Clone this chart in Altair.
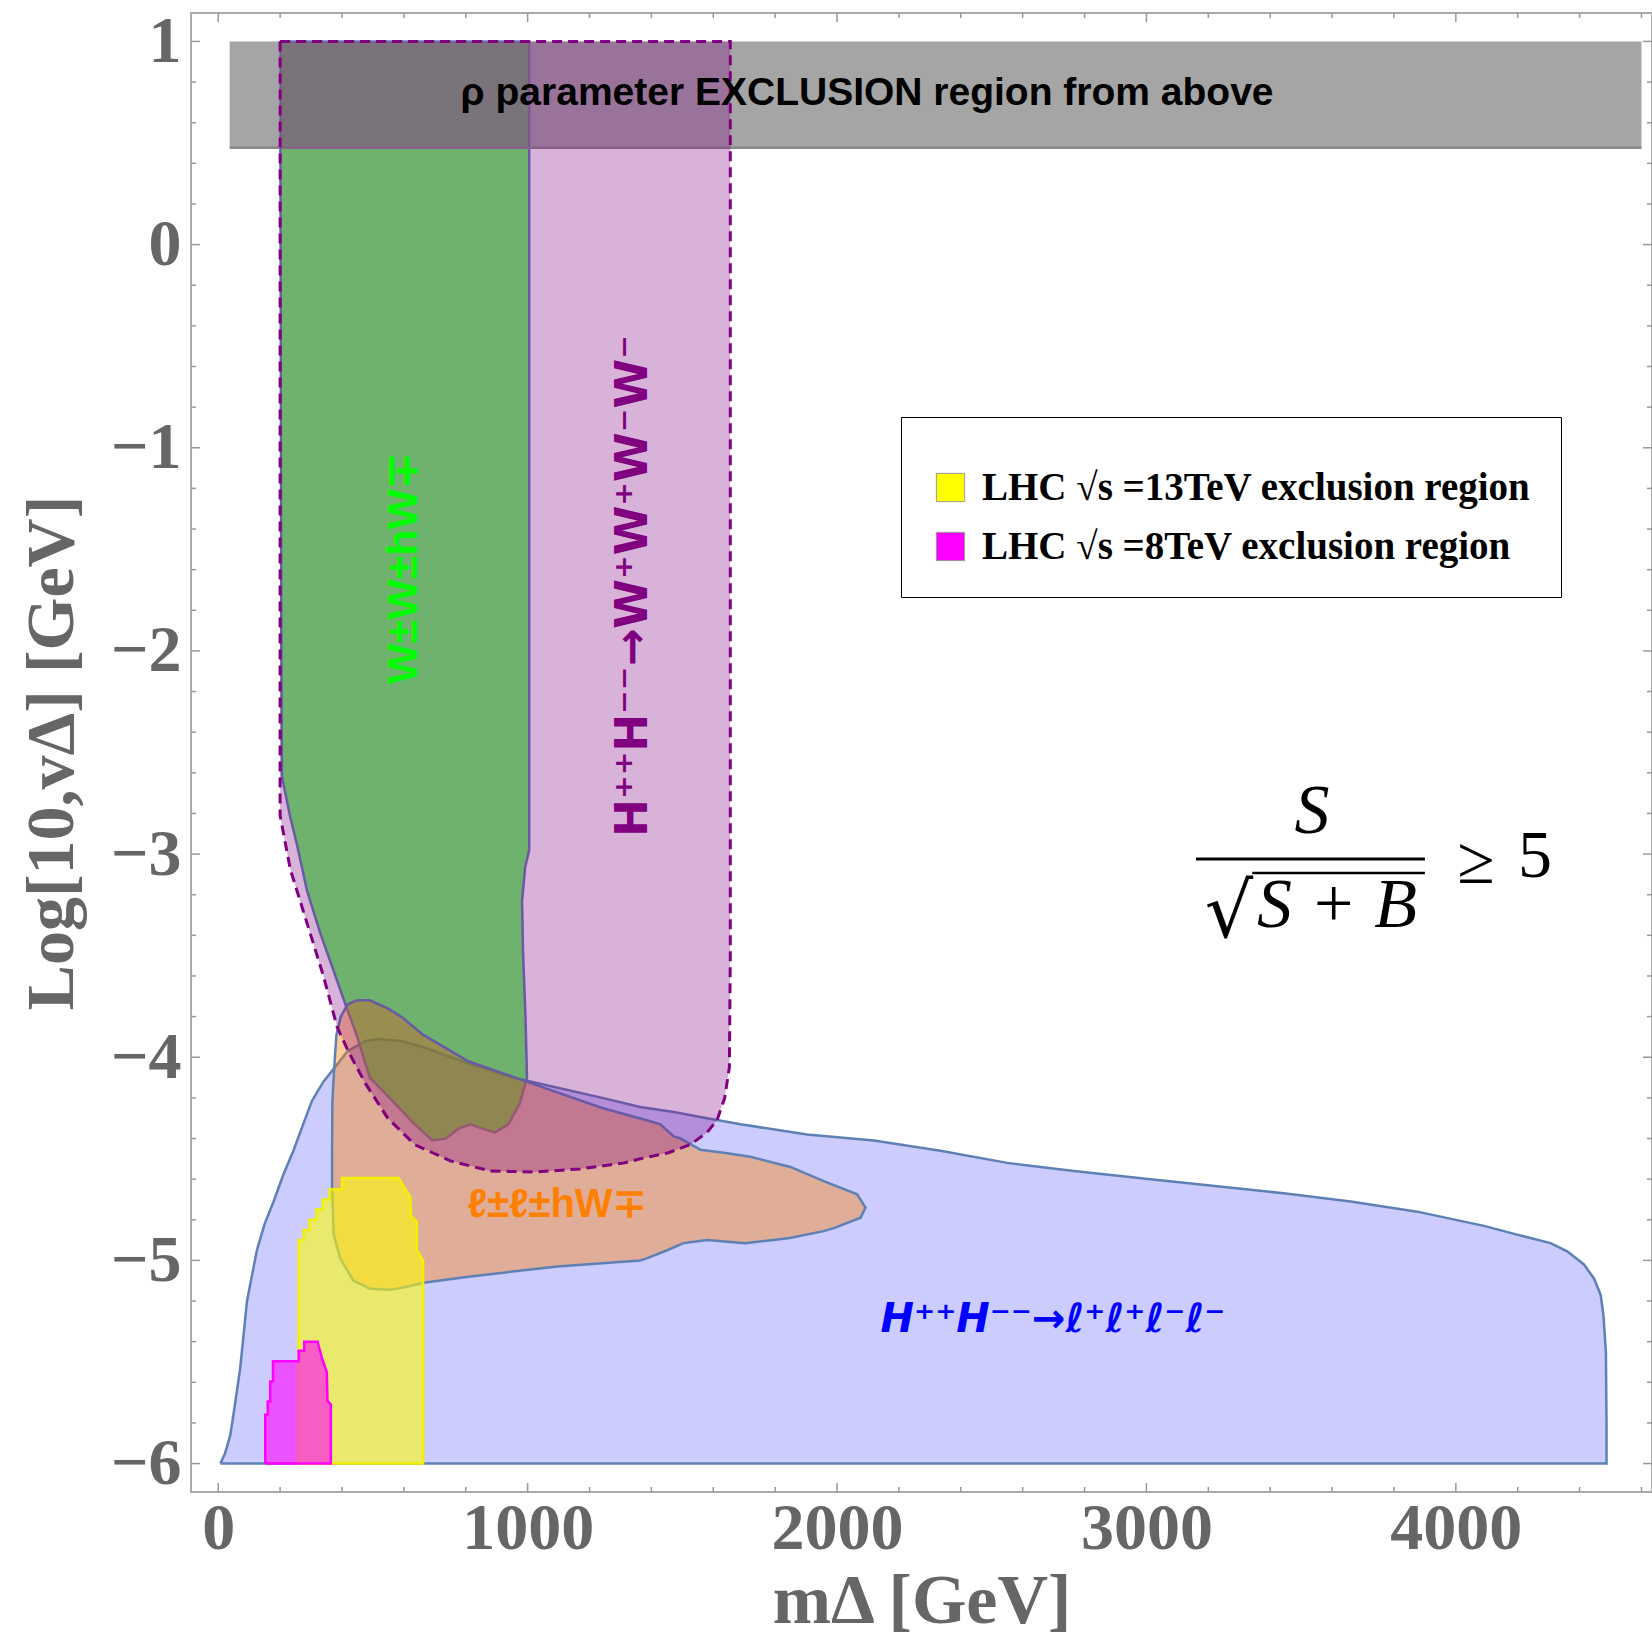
import altair as alt
import pandas as pd

# ---------------- axis ticks ----------------
x_major = [0, 1000, 2000, 3000, 4000]
x_minor = [200, 400, 600, 800, 1200, 1400, 1600, 1800, 2200, 2400, 2600, 2800,
           3200, 3400, 3600, 3800, 4200, 4400, 4600]
y_major = [-6, -5, -4, -3, -2, -1, 0, 1]
y_minor = [-5.8, -5.6, -5.4, -5.2, -4.8, -4.6, -4.4, -4.2, -3.8, -3.6, -3.4, -3.2,
           -2.8, -2.6, -2.4, -2.2, -1.8, -1.6, -1.4, -1.2, -0.8, -0.6, -0.4, -0.2,
           0.2, 0.4, 0.6, 0.8]

# ---------------- regions (m_Delta [GeV], log10 v_Delta) ----------------
blue_x = [7, 22, 39, 55, 71, 93, 125, 150, 179, 210, 243, 272, 303, 340, 377, 418, 476,
          519, 591, 663, 808, 952, 1241, 1364, 1472, 1580, 1688, 1903, 2119, 2334, 2550,
          2765, 3013, 3229, 3444, 3660, 3875, 4091, 4198, 4306, 4360, 4414, 4447, 4468,
          4477, 4485, 4487, 4487, 7]
blue_y = [-6.0, -5.95, -5.86, -5.70, -5.53, -5.20, -4.95, -4.82, -4.71, -4.58, -4.46,
          -4.34, -4.215, -4.12, -4.05, -3.97, -3.92, -3.91, -3.92, -3.95, -4.03, -4.10,
          -4.20, -4.245, -4.27, -4.30, -4.33, -4.38, -4.41, -4.46, -4.52, -4.56, -4.60,
          -4.635, -4.67, -4.71, -4.76, -4.83, -4.873, -4.915, -4.955, -5.02, -5.09, -5.17,
          -5.27, -5.45, -5.8, -6.0, -6.0]

green_x = [200, 1005, 1005, 992, 982, 985, 993, 998, 974, 938, 894, 851, 815, 779, 735,
           692, 635, 563, 490, 447, 411, 373, 330, 287, 254, 233, 217, 206, 204, 200]
green_y = [1.0, 1.0, -2.98, -3.065, -3.23, -3.475, -3.80, -4.10, -4.23, -4.33, -4.37,
           -4.35, -4.33, -4.35, -4.40, -4.41, -4.33, -4.215, -4.10, -3.89, -3.74, -3.575,
           -3.39, -3.18, -2.95, -2.82, -2.70, -2.62, -2.0, 1.0]

orange_x = [447, 490, 548, 591, 663, 808, 996, 1241, 1385, 1429, 1472, 1494, 1558, 1634,
            1720, 1849, 1957, 2065, 2092, 2076, 1992, 1957, 1847, 1795, 1703, 1580, 1504,
            1451, 1385, 1364, 1096, 808, 664, 610, 556, 491, 437, 394, 373, 368, 368, 369,
            375, 382, 396, 418, 447]
orange_y = [-3.72, -3.72, -3.76, -3.80, -3.89, -4.02, -4.12, -4.25, -4.31, -4.33, -4.39,
            -4.40, -4.455, -4.47, -4.49, -4.54, -4.61, -4.675, -4.74, -4.79, -4.84, -4.856,
            -4.89, -4.90, -4.915, -4.90, -4.915, -4.95, -4.99, -5.0, -5.03, -5.08, -5.11,
            -5.13, -5.145, -5.14, -5.10, -4.99, -4.87, -4.63, -4.46, -4.215, -4.05, -3.89,
            -3.80, -3.74, -3.72]

purple_x = [200, 1655, 1655, 1652, 1637, 1612, 1580, 1526, 1455, 1364, 1313, 1169, 1024,
            880, 750, 635, 548, 476, 420, 384, 340, 287, 233, 200, 200]
purple_y = [1.0, 1.0, -3.5, -4.05, -4.2, -4.31, -4.37, -4.43, -4.47, -4.50, -4.52, -4.55,
            -4.565, -4.56, -4.51, -4.43, -4.30, -4.13, -3.97, -3.85, -3.60, -3.34, -3.075,
            -2.81, 1.0]

yellow_x = [260, 260, 276, 276, 295, 295, 317, 317, 338, 338, 360, 360, 400, 400, 583,
            621, 623, 642, 642, 662, 662, 260]
yellow_y = [-6.0, -4.90, -4.90, -4.85, -4.85, -4.80, -4.80, -4.75, -4.75, -4.70, -4.70,
            -4.65, -4.65, -4.595, -4.595, -4.69, -4.78, -4.81, -4.95, -5.0, -6.0, -6.0]

magenta_x = [152, 152, 160, 160, 168, 168, 177, 177, 260, 260, 278, 278, 321, 335, 351,
             353, 364, 364, 152]
magenta_y = [-6.0, -5.76, -5.76, -5.695, -5.695, -5.596, -5.596, -5.497, -5.497, -5.445,
             -5.445, -5.40, -5.40, -5.48, -5.55, -5.69, -5.71, -6.0, -6.0]

band_x = [37, 4600]
band_y = [0.477, 1.0]

legend_labels = ["LHC \u221as =13TeV exclusion region", "LHC \u221as =8TeV exclusion region"]

# ---------------- annotations ----------------
rho_text = ["\u03c1 parameter EXCLUSION region from above"]
rho_pos = [2097, 0.746]
green_text = ["W\u00b1W\u00b1hW\u2213"]
green_pos = [600, -1.594]
purple_text = ["H\u207a\u207aH\u207b\u207b\u2192W\u207aW\u207aW\u207bW\u207b"]
purple_pos = [1341, -1.68]
orange_text = ["\u2113\u00b1\u2113\u00b1hW\u2213"]
orange_pos = [1095, -4.727]
blue_text = ["H\u207a\u207aH\u207b\u207b\u2192\u2113\u207a\u2113\u207a\u2113\u207b\u2113\u207b"]
blue_pos = [2698, -5.293]

formula_text = ["S", "S + B"]
formula_x = [3535, 3616]
formula_y = [-2.896, -3.359]
upright_text = ["\u2265", "5"]
upright_x = [4065, 4256]
upright_y = [-3.142, -3.113]
radical_text = ["\u221a"]
radical_pos = [3345, -3.41]
frac_x = [3160, 3900]
frac_y = -3.024
over_x = [3342, 3900]
over_y = -3.093

# ---------------- chart ----------------
W, H = 1461, 1479
xscale = alt.Scale(domain=[-88, 4634], nice=False, zero=False)
yscale = alt.Scale(domain=[-6.14, 1.14], nice=False, zero=False)
GRAY = "#666666"
xaxis = alt.Axis(values=x_major, ticks=False, domain=False, grid=False, format="d",
                 labelFont="Liberation Serif", labelFontWeight="bold", labelFontSize=66,
                 labelColor=GRAY, labelPadding=4, labelFlush=False, labelOverlap=False,
                 title="m\u0394 [GeV]", titleFont="Liberation Serif", titleFontWeight="bold",
                 titleFontSize=70, titleColor=GRAY, titlePadding=6)
yaxis = alt.Axis(values=y_major, ticks=False, domain=False, grid=False, format="d",
                 labelFont="Liberation Serif", labelFontWeight="bold", labelFontSize=66,
                 labelColor=GRAY, labelPadding=10, labelFlush=False, labelOverlap=False,
                 title="Log[10,v\u0394] [GeV]", titleFont="Liberation Serif",
                 titleFontWeight="bold", titleFontSize=68, titleColor=GRAY, titlePadding=24)

X = alt.X("x:Q", scale=xscale, axis=xaxis)
Y = alt.Y("y:Q", scale=yscale, axis=yaxis)


def poly(xs, ys, extra=None):
    d = pd.DataFrame({"x": xs, "y": ys, "i": list(range(len(xs)))})
    if extra:
        for k, v in extra.items():
            d[k] = v
    return d


BOUND = "#5e81b5"

blue = alt.Chart(poly(blue_x, blue_y)).mark_line(
    fill="#0000ff", fillOpacity=0.2, stroke=BOUND, strokeWidth=2.5
).encode(x=X, y=Y, order="i:Q")

green = alt.Chart(poly(green_x, green_y)).mark_line(
    fill="#00ff00", fillOpacity=0.6, stroke=BOUND, strokeWidth=2.5
).encode(x=X, y=Y, order="i:Q")

orange = alt.Chart(poly(orange_x, orange_y)).mark_line(
    fill="#ff8000", fillOpacity=0.4, stroke=BOUND, strokeWidth=2.5
).encode(x=X, y=Y, order="i:Q")

band_df = pd.DataFrame({"x": [band_x[0]], "x2": [band_x[1]], "y": [band_y[0]], "y2": [band_y[1]]})
band = alt.Chart(band_df).mark_rect(color="#808080", opacity=0.71).encode(
    x=X, x2="x2:Q", y=Y, y2="y2:Q")
band_edge = alt.Chart(band_df).mark_rule(color="#8a8a8a", strokeWidth=2.5).encode(
    x=X, x2="x2:Q", y=Y)

purple = alt.Chart(poly(purple_x, purple_y)).mark_line(
    fill="#800080", fillOpacity=0.3, stroke="#800080", strokeWidth=3, strokeDash=[10, 6]
).encode(x=X, y=Y, order="i:Q")

fill_enc = alt.Fill(
    "lab:N",
    scale=alt.Scale(domain=legend_labels, range=["#ffff00", "#ff00ff"]),
    legend=alt.Legend(
        orient="none", legendX=710, legendY=404, title=" ", titleFontSize=12, titlePadding=9,
        strokeColor="black", fillColor="white", padding=30, symbolType="square",
        symbolSize=800, symbolStrokeWidth=1, symbolStrokeColor="#999999", symbolOpacity=1,
        labelFont="Liberation Serif", labelFontWeight="bold", labelFontSize=39,
        labelColor="black", labelOffset=12, labelLimit=2000, rowPadding=19),
)

yellow = alt.Chart(poly(yellow_x, yellow_y, {"lab": legend_labels[0]})).mark_line(
    fillOpacity=0.57, stroke="#f2f200", strokeWidth=2.5
).encode(x=X, y=Y, order="i:Q", fill=fill_enc)

magenta = alt.Chart(poly(magenta_x, magenta_y, {"lab": legend_labels[1]})).mark_line(
    fillOpacity=0.6, stroke="#ff00ff", strokeWidth=2.5
).encode(x=X, y=Y, order="i:Q", fill=fill_enc)


def label(text, pos, **kw):
    d = pd.DataFrame({"x": [pos[0]], "y": [pos[1]], "t": text})
    return alt.Chart(d).mark_text(**kw).encode(x=X, y=Y, text="t:N")


rho = label(rho_text, rho_pos, font="Liberation Sans", fontWeight="bold", fontSize=39,
            color="black", baseline="middle", align="center")
glab = label(green_text, green_pos, font="Liberation Sans", fontWeight="bold", fontSize=43,
             color="#00ff00", angle=270, baseline="middle", align="center")
plab = label(purple_text, purple_pos, font="DejaVu Sans", fontWeight="bold", fontSize=45,
             color="#800080", angle=270, baseline="middle", align="center")
olab = label(orange_text, orange_pos, font="Liberation Sans", fontWeight="bold", fontSize=40,
             color="#ff8000", baseline="middle", align="center")
blab = label(blue_text, blue_pos, font="DejaVu Sans", fontWeight="bold", fontStyle="italic",
             fontSize=40, color="#0000ff", baseline="middle", align="center")

fdf = pd.DataFrame({"x": formula_x, "y": formula_y, "t": formula_text})
formula = alt.Chart(fdf).mark_text(font="Liberation Serif", fontStyle="italic", fontSize=70,
                                   color="black", baseline="alphabetic", align="center").encode(
    x=X, y=Y, text="t:N")
udf = pd.DataFrame({"x": upright_x, "y": upright_y, "t": upright_text})
upright = alt.Chart(udf).mark_text(font="Liberation Serif", fontSize=68,
                                   color="black", baseline="alphabetic", align="center").encode(
    x=X, y=Y, text="t:N")
radical = label(radical_text, radical_pos, font="DejaVu Serif", fontSize=76, color="black",
                baseline="alphabetic", align="right")
frac = alt.Chart(pd.DataFrame({"x": [frac_x[0]], "x2": [frac_x[1]], "y": [frac_y]})).mark_rule(
    color="black", strokeWidth=3).encode(x=X, x2="x2:Q", y=Y)
over = alt.Chart(pd.DataFrame({"x": [over_x[0]], "x2": [over_x[1]], "y": [over_y]})).mark_rule(
    color="black", strokeWidth=2.5).encode(x=X, x2="x2:Q", y=Y)

# inward frame ticks
TC = "#999999"
xmaj = pd.DataFrame({"x": x_major})
xmin = pd.DataFrame({"x": x_minor})
ymaj = pd.DataFrame({"y": y_major})
ymin = pd.DataFrame({"y": y_minor})
ticks = [
    alt.Chart(xmaj).mark_rule(color=TC, strokeWidth=1.5).encode(x=X, y=alt.value(H), y2=alt.value(H - 9)),
    alt.Chart(xmin).mark_rule(color=TC, strokeWidth=1.5).encode(x=X, y=alt.value(H), y2=alt.value(H - 5)),
    alt.Chart(xmaj).mark_rule(color=TC, strokeWidth=1.5).encode(x=X, y=alt.value(0), y2=alt.value(9)),
    alt.Chart(xmin).mark_rule(color=TC, strokeWidth=1.5).encode(x=X, y=alt.value(0), y2=alt.value(5)),
    alt.Chart(ymaj).mark_rule(color=TC, strokeWidth=1.5).encode(y=Y, x=alt.value(0), x2=alt.value(9)),
    alt.Chart(ymin).mark_rule(color=TC, strokeWidth=1.5).encode(y=Y, x=alt.value(0), x2=alt.value(5)),
    alt.Chart(ymaj).mark_rule(color=TC, strokeWidth=1.5).encode(y=Y, x=alt.value(W), x2=alt.value(W - 9)),
    alt.Chart(ymin).mark_rule(color=TC, strokeWidth=1.5).encode(y=Y, x=alt.value(W), x2=alt.value(W - 5)),
]

chart = alt.layer(
    blue, green, orange, band, band_edge, purple, yellow, magenta,
    rho, glab, plab, olab, blab, formula, upright, radical, frac, over, *ticks
).properties(
    width=W, height=H,
    autosize=alt.AutoSizeParams(type="none"),
    padding={"left": 191, "top": 13, "right": 0, "bottom": 149},
    background="white",
).configure_view(stroke="#aaaaaa", strokeWidth=2)

chart.save("out.html", embed_options={"renderer": "svg", "actions": False})
